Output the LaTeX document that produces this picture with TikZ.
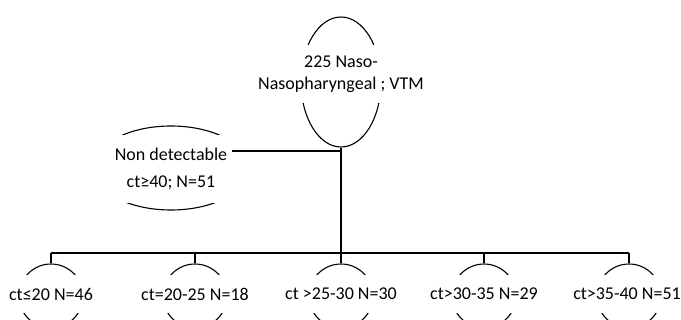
\documentclass[tikz,border=0pt]{standalone}
\usepackage{fontspec}
\setmainfont{Carlito}
\usetikzlibrary{shapes.geometric}
\tikzset{blob/.style={ellipse, draw, line width=1.1pt, inner sep=0pt},
  tag/.style={fill=white, align=center, inner sep=0pt, font=\fontsize{18}{22}\selectfont},
  wire/.style={line width=1.1pt},
  trunk/.style={line width=2pt}}

\begin{document}
\begin{tikzpicture}[x=1pt, y=-1pt]
  \useasboundingbox (0,0) rectangle (681,320);
  \clip (0,0) rectangle (681,320);
  % sample
  \node[blob, minimum width=80, minimum height=130] (naso) at (341,82) {};
  \node[tag, minimum width=190, minimum height=58] (nasotext) at (341,74) {225 Naso-\\Nasopharyngeal ; VTM};
  % non detectable
  \node[blob, minimum width=156, minimum height=84] (nondet) at (171,168) {};
  \node[tag, minimum width=170, minimum height=68] (nondettext) at (171,169) {Non detectable\\[5pt]ct≥40; N=51};
  % ct groups
  \node[blob, minimum width=64, minimum height=64] (ct20) at (51,296) {};
  \node[blob, minimum width=64, minimum height=64] (ct25) at (195,296) {};
  \node[blob, minimum width=64, minimum height=64] (ct30) at (341,296) {};
  \node[blob, minimum width=64, minimum height=64] (ct35) at (484,296) {};
  \node[blob, minimum width=64, minimum height=64] (ct40) at (629,296) {};
  \node[tag, minimum width=90, minimum height=38] (ct20text) at (51,294) {ct≤20 N=46};
  \node[tag, minimum width=90, minimum height=38] (ct25text) at (195,294) {ct=20-25 N=18};
  \node[tag, minimum width=90, minimum height=38] (ct30text) at (341,294) {ct >25-30 N=30};
  \node[tag, minimum width=90, minimum height=38] (ct35text) at (484,294) {ct>30-35 N=29};
  \node[tag, minimum width=90, minimum height=38] (ct40text) at (627,294) {ct>35-40 N=51};
  % connectors
  \coordinate (bus) at (341,253);
  \coordinate (ndend) at (232,151);
  \draw[trunk] (naso.south) -- (bus);
  \draw[wire] (ndend) -- (ndend -| naso);
  \draw[wire] (ct20.north |- bus) -- (ct40.north |- bus);
  \draw[wire] (ct20.north |- bus) -- (ct20.north);
  \draw[wire] (ct25.north |- bus) -- (ct25.north);
  \draw[wire] (ct30.north |- bus) -- (ct30.north);
  \draw[wire] (ct35.north |- bus) -- (ct35.north);
  \draw[wire] (ct40.north |- bus) -- (ct40.north);
\end{tikzpicture}
\end{document}
